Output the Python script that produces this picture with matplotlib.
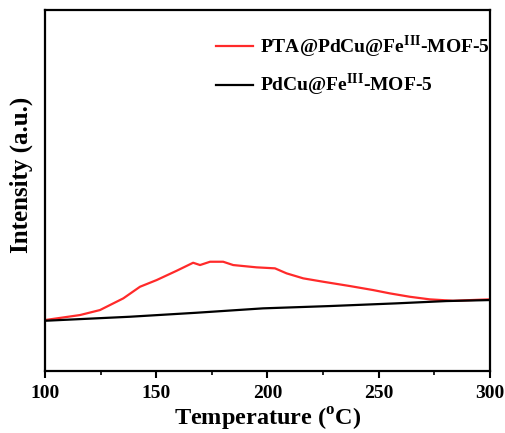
import matplotlib
matplotlib.use("Agg")
import matplotlib.pyplot as plt

plt.rcParams["font.family"] = "Liberation Serif"
plt.rcParams["font.weight"] = "bold"
plt.rcParams["mathtext.fontset"] = "custom"
plt.rcParams["mathtext.rm"] = "Liberation Serif"

# red curve: PTA@PdCu@Fe(III)-MOF-5
temp_pta = [100, 115.7, 124.7, 135.2, 142.7, 150.2, 159.2, 166.6, 169.7, 174.2,
            180.1, 184.6, 195.1, 203.4, 208.6, 216.1, 225.1, 237.1, 247.5, 255,
            264, 273, 283.5, 300]
int_pta = [51, 56, 61, 72.7, 84.3, 91, 100.3, 108.3, 106, 109.3,
           109.3, 106, 103.7, 102.7, 97.7, 92.7, 89.3, 85, 81, 77.7,
           74.3, 71.7, 70.3, 71.7]

# black curve: PdCu@Fe(III)-MOF-5
temp_ref = [100, 138, 168, 198, 228, 258, 280.5, 300]
int_ref = [50.3, 54.3, 58.3, 62.7, 65, 67.7, 70, 71]

fig = plt.figure(figsize=(5.06, 4.33), dpi=100)
ax = fig.add_axes([0.089, 0.143, 0.879, 0.834])

ax.plot(temp_pta, int_pta, color="#ff2a2a", lw=1.6, label="PTA@PdCu@Fe$^{\\rm III}$-MOF-5")
ax.plot(temp_ref, int_ref, color="black", lw=1.6, label="PdCu@Fe$^{\\rm III}$-MOF-5")

ax.set_xlim(100, 300)
ax.set_ylim(0, 361)
ax.set_xticks([100, 150, 200, 250, 300])
ax.set_xticks([125, 175, 225, 275], minor=True)
ax.set_yticks([])
ax.tick_params(axis="x", which="major", direction="out", length=5, width=1.5, labelsize=14, pad=5)
ax.tick_params(axis="x", which="minor", direction="out", length=3, width=1.2)
for s in ax.spines.values():
    s.set_linewidth(1.6)

ax.set_xlabel("Temperature ($^{\\rm o}$C)", fontsize=17.5, fontweight="bold", labelpad=3)
ax.set_ylabel("Intensity (a.u.)", fontsize=18, fontweight="bold")
ax.yaxis.set_label_coords(-0.027, 0.543)

leg = ax.legend(loc="upper right", bbox_to_anchor=(1.0, 0.935), frameon=False,
                handlelength=1.9, handletextpad=0.36, labelspacing=0.6,
                borderaxespad=0, borderpad=0,
                prop={"weight": "bold", "size": 14})

fig.savefig("out.png", dpi=100)
